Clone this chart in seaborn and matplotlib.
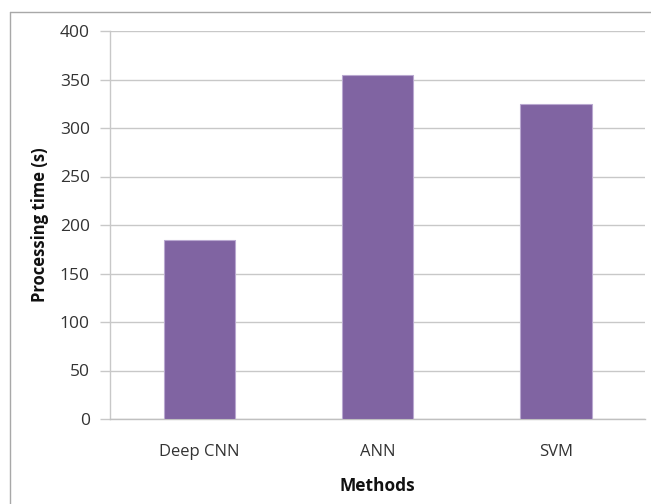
import matplotlib
matplotlib.use("Agg")
import matplotlib.pyplot as plt
import seaborn as sns
import pandas as pd
from matplotlib.lines import Line2D

methods = ["Deep CNN", "ANN", "SVM"]
times = [185, 355, 325]
y_ticks = [0, 50, 100, 150, 200, 250, 300, 350, 400]

sns.set_theme(style="white")
plt.rcParams["font.family"] = ["Open Sans", "DejaVu Sans"]

df = pd.DataFrame({"Methods": methods, "Processing time (s)": times})

W, H = 651, 504
fig = plt.figure(figsize=(W / 100, H / 100), dpi=100)
fig.patch.set_facecolor("white")
ax = fig.add_axes([110 / W, (H - 419) / H, (645 - 110) / W, (419 - 31) / H])

sns.barplot(data=df, x="Methods", y="Processing time (s)", color="#8064A2",
            width=0.4, saturation=1, edgecolor="#b9a8d0", linewidth=0.8,
            ax=ax, zorder=3)

ax.set_ylim(0, 400)
ax.set_xlim(-0.5, 2.5)
ax.set_yticks(y_ticks)
ax.yaxis.grid(True, color="#c8c8c8", linewidth=1.0, zorder=0)
ax.set_axisbelow(True)

for side in ["top", "right"]:
    ax.spines[side].set_visible(False)
ax.spines["left"].set_color("#c8c8c8")
ax.spines["bottom"].set_color("#c0c0c0")
ax.spines["left"].set_linewidth(1.0)
ax.spines["bottom"].set_linewidth(1.0)

ax.tick_params(axis="y", which="major", left=True, length=7, width=1.0,
               color="#c8c8c8", labelsize=12.5, labelcolor="#333333", pad=7.5)
ax.tick_params(axis="x", which="major", bottom=False, length=0, labelsize=12,
               labelcolor="#333333", pad=18)

ax.set_xlabel("Methods", fontsize=12.5, fontweight="bold", color="#111111")
ax.set_ylabel("Processing time (s)", fontsize=12, fontweight="bold", color="#111111")
ax.xaxis.set_label_coords(0.5, -0.150)
ax.yaxis.set_label_coords(-0.114, 0.5)

# light frame around the chart area
fig.add_artist(Line2D([10 / W, 10 / W], [0, (H - 12) / H], transform=fig.transFigure,
                      color="#a8a8a8", linewidth=1.0))
fig.add_artist(Line2D([10 / W, 1.0], [(H - 12) / H, (H - 12) / H], transform=fig.transFigure,
                      color="#a8a8a8", linewidth=1.0))

fig.savefig("out.png", dpi=100, facecolor="white")
